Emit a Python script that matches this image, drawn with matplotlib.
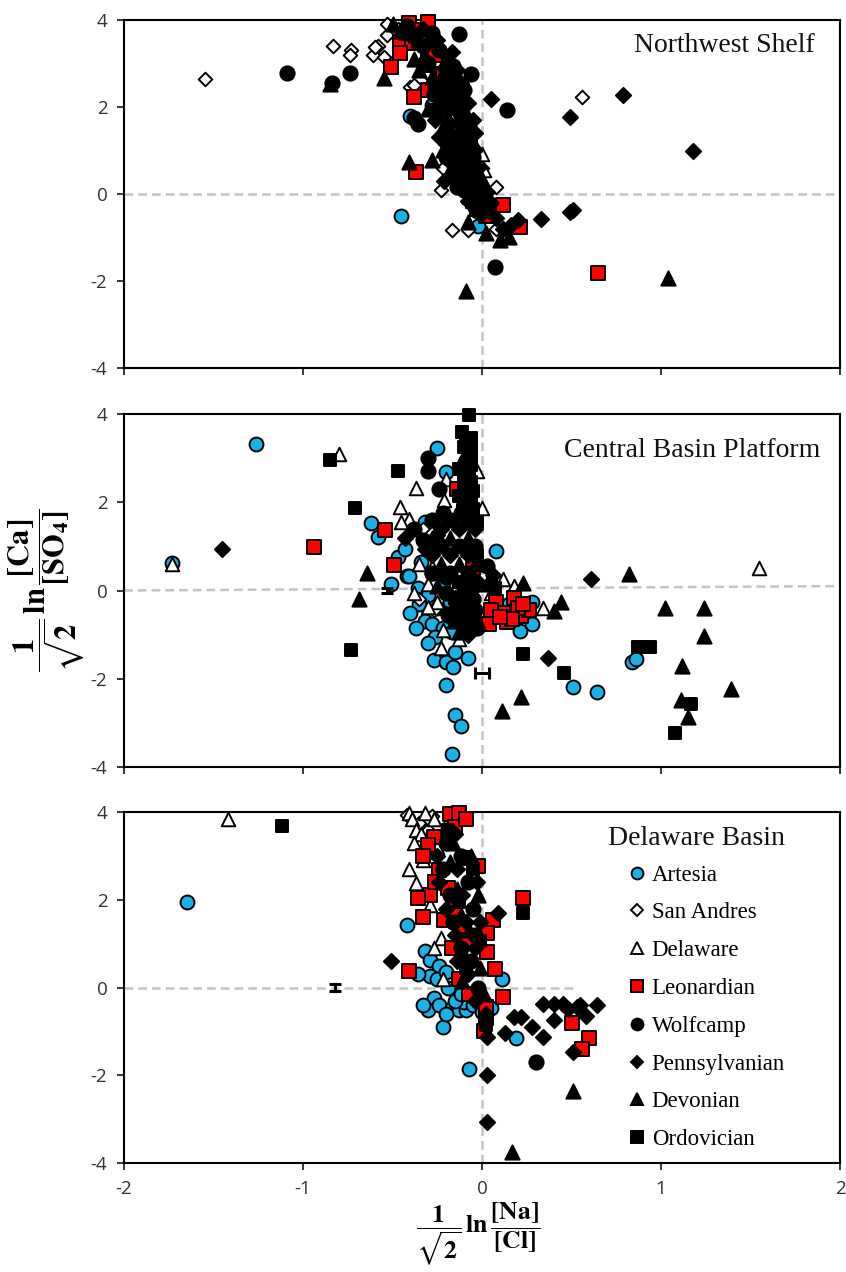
import numpy as np
import matplotlib
matplotlib.use("Agg")
import matplotlib.pyplot as plt
from matplotlib.lines import Line2D

plt.rcParams['mathtext.fontset'] = 'stix'
plt.rcParams['axes.unicode_minus'] = False

# ---------------- data: (ln ratio Na/Cl, ln ratio Ca/SO4) ----------------
groups = ['Artesia', 'San Andres', 'Delaware', 'Leonardian',
          'Wolfcamp', 'Pennsylvanian', 'Devonian', 'Ordovician']
x_ticks = [-2, -1, 0, 1, 2]
y_ticks = [-4, -2, 0, 2, 4]

# Northwest Shelf
nw_artesia = [(-0.45, -0.50), (-0.40, 1.80), (-0.02, -0.74), (-0.28, 2.05), (-0.15, 1.20),
              (-0.03, -0.40)]
nw_sanandres = [(-1.55, 2.64), (-0.83, 3.40), (-0.73, 3.30), (-0.74, 3.20), (-0.58, 3.40),
                (-0.61, 3.20), (-0.53, 3.90), (-0.53, 3.65), (-0.55, 3.15), (-0.60, 3.38),
                (-0.40, 2.46), (-0.38, 2.50), (0.56, 2.23), (-0.23, 0.08), (0.08, 0.17),
                (-0.17, -0.83), (-0.08, -0.83), (0.08, -0.80), (-0.30, 3.35), (-0.25, 2.95),
                (-0.30, 2.75), (-0.05, 0.80), (0.00, 0.60), (-0.22, 0.60), (-0.47, 3.80)]
nw_delaware = [(0.00, 0.93), (0.01, 0.55)]
nw_leonardian = [(-0.41, 3.93), (-0.30, 3.95), (-0.37, 3.77), (-0.46, 3.50), (-0.39, 3.47),
                 (-0.30, 3.30), (-0.46, 3.24), (-0.51, 2.92), (-0.31, 2.97), (-0.26, 3.20),
                 (-0.38, 2.23), (-0.30, 2.40), (-0.25, 1.90), (-0.37, 0.51), (0.12, -0.25),
                 (0.21, -0.75), (0.65, -1.82), (0.04, -0.30), (-0.03, -0.35), (-0.42, 3.70),
                 (-0.34, 3.60), (-0.22, 2.75), (-0.15, 2.10), (-0.10, 1.30), (-0.05, -0.15),
                 (0.02, -0.50)]
nw_wolfcamp = [(-1.09, 2.78), (-0.84, 2.55), (-0.74, 2.78), (-0.13, 3.67), (0.14, 1.93),
               (0.07, -1.67), (-0.38, 1.75), (-0.36, 1.62), (-0.30, 3.00), (-0.22, 2.60),
               (-0.18, 2.20), (-0.25, 1.90), (-0.12, 1.80), (-0.20, 1.45), (-0.08, 1.25),
               (-0.15, 1.05), (-0.05, 0.85), (-0.12, 0.60), (-0.06, 0.35), (-0.10, 0.10),
               (-0.02, -0.10), (0.02, -0.35), (-0.04, -0.30), (-0.27, 2.30), (-0.33, 3.40),
               (-0.42, 3.85), (-0.16, 2.95), (-0.10, 2.40), (-0.07, 1.55), (-0.20, 0.85),
               (-0.24, 3.30), (-0.20, 2.40), (-0.12, 2.00), (-0.17, 1.30), (-0.10, 0.80),
               (-0.14, 0.15), (-0.04, 0.10), (-0.28, 3.70), (-0.38, 3.60), (-0.06, 2.75)]
nw_penn = [(-0.17, 3.27), (0.05, 2.18), (0.79, 2.28), (0.49, 1.77), (1.18, 0.99),
           (0.51, -0.36), (0.49, -0.42), (0.33, -0.57), (0.20, -0.60), (0.16, -0.72),
           (0.12, -0.80), (-0.14, 2.85), (-0.20, 2.75), (-0.12, 2.55), (-0.26, 2.45),
           (-0.16, 2.35), (-0.08, 2.10), (-0.22, 2.05), (-0.14, 1.90), (-0.26, 1.70),
           (-0.10, 1.65), (-0.18, 1.60), (-0.04, 1.40), (-0.13, 1.35), (-0.24, 1.30),
           (-0.09, 1.10), (-0.20, 1.15), (-0.04, 1.00), (-0.15, 0.90), (-0.08, 0.75),
           (-0.17, 0.70), (-0.02, 0.60), (-0.09, 0.45), (-0.15, 0.35), (-0.03, 0.20),
           (-0.12, 0.25), (-0.06, 0.00), (0.03, 0.05), (-0.08, -0.15), (0.05, -0.20),
           (0.00, -0.45), (0.08, -0.55), (-0.33, 3.80), (-0.25, 3.55), (-0.21, 2.90),
           (-0.05, 1.70), (-0.21, 0.30), (-0.01, -0.25)]
nw_devonian = [(-0.85, 2.52), (-0.55, 2.66), (-0.41, 0.74), (-0.28, 0.78), (-0.09, -2.23),
               (1.04, -1.92), (0.15, -0.99), (-0.08, -0.64), (0.02, -0.90), (0.10, -1.05),
               (-0.35, 2.85), (-0.28, 2.70), (-0.20, 3.10), (-0.32, 3.15), (-0.24, 2.20),
               (-0.30, 1.95), (-0.19, 1.75), (-0.10, 1.95), (-0.22, 1.55), (-0.13, 1.50),
               (-0.05, 1.20), (-0.17, 1.25), (-0.11, 0.95), (-0.22, 1.00), (-0.06, 0.65),
               (-0.14, 0.50), (-0.10, 0.30), (-0.04, 0.45), (-0.18, 0.55), (-0.07, -0.05),
               (0.00, 0.35), (-0.16, 2.65), (-0.38, 3.10), (-0.45, 3.75), (-0.50, 3.90),
               (-0.36, 3.55), (-0.30, 3.55)]
nw_ordovician = [(-0.12, 2.30), (-0.06, 1.35), (-0.18, 1.95)]
nw_zero_line = [0.0, 0.0]

# Central Basin Platform
cb_artesia = [(-1.73, 0.63), (-1.26, 3.31), (-0.62, 1.54), (-0.58, 1.22), (-0.47, 0.75),
              (-0.42, 0.32), (-0.51, 0.15), (-0.25, 3.22), (-0.20, 2.68), (-0.36, 0.05),
              (0.08, 0.90), (0.28, -0.25), (0.21, -0.91), (0.28, -0.75), (0.84, -1.63),
              (0.86, -1.55), (0.51, -2.18), (0.64, -2.29), (-0.17, -3.70), (-0.15, -2.83),
              (-0.12, -3.08), (-0.20, -2.13), (-0.27, -1.57), (-0.20, -1.63), (-0.15, -1.40),
              (-0.08, -1.54), (-0.16, -1.74), (-0.32, -0.68), (-0.30, 0.95), (-0.34, 0.65),
              (-0.25, 1.10), (-0.28, 0.40), (-0.22, 0.15), (-0.30, -0.10), (-0.35, -0.30),
              (-0.25, -0.40), (-0.18, -0.25), (-0.28, -0.75), (-0.22, -0.85), (-0.14, -0.55),
              (-0.10, -0.90), (-0.17, -0.95), (-0.05, -0.70), (-0.40, -0.50), (-0.37, -0.85),
              (0.15, -0.30), (0.25, -0.45), (0.20, -0.30), (0.05, -0.60), (-0.24, 1.50),
              (-0.15, 1.60), (-0.32, 1.55), (-0.43, 0.95), (-0.10, -0.35), (-0.26, -1.05),
              (-0.30, -1.20), (-0.41, 0.34)]
cb_sanandres = [(-0.33, 1.40), (-0.28, 1.30), (-0.20, -0.50), (-0.35, -0.20), (-0.10, -0.20),
                (-0.27, -0.45), (-0.40, 1.30)]
cb_delaware = [(-1.73, 0.60), (1.55, 0.50), (-0.80, 3.10), (-0.37, 2.33), (-0.46, 1.90),
               (-0.41, 1.63), (-0.35, 0.60), (-0.28, 0.53), (-0.20, 2.53), (-0.21, 2.05),
               (-0.03, 2.72), (0.00, 1.88), (0.05, 0.34), (0.12, 0.27), (0.05, -0.05),
               (-0.25, -0.25), (-0.30, -0.38), (-0.15, -0.15), (-0.23, -1.30), (-0.22, -0.90),
               (-0.17, -0.50), (0.34, -0.39), (0.18, 0.10), (-0.38, -0.05), (-0.45, 1.55),
               (-0.30, 0.15), (-0.13, -1.10), (0.05, -0.30)]
cb_leonardian = [(-0.94, 0.98), (-0.54, 1.38), (-0.49, 0.57), (0.04, -0.75), (0.08, -0.27),
                 (0.18, -0.16), (0.14, -0.72), (0.22, -0.57), (0.26, -0.45), (0.12, -0.50),
                 (0.20, -0.40), (-0.13, -0.20), (0.05, -0.45), (0.17, -0.65), (0.23, -0.30),
                 (0.10, -0.60), (-0.10, 1.80), (-0.05, 0.50), (-0.14, 2.30)]
cb_wolfcamp = [(-0.30, 3.00), (-0.30, 2.72), (-0.24, 2.30), (-0.28, 1.60), (-0.18, 1.60),
               (-0.08, 1.60), (-0.23, 1.00), (-0.13, 1.00), (-0.04, 1.00), (-0.28, 0.40),
               (-0.18, 0.40), (-0.08, 0.40), (-0.15, -0.20), (-0.05, -0.20), (-0.10, -0.80),
               (0.03, 0.55), (-0.38, 1.40), (-0.22, 1.75), (-0.12, 1.75), (-0.20, -0.05),
               (-0.04, -0.45), (-0.19, -0.55), (-0.03, -0.85), (-0.20, 0.30), (-0.33, 1.15)]
cb_penn = [(-1.45, 0.93), (0.61, 0.27), (0.37, -1.52), (-0.43, 1.18), (-0.23, 1.40),
           (-0.13, 1.40), (-0.04, 1.40), (-0.28, 0.80), (-0.18, 0.80), (-0.08, 0.80),
           (-0.10, 0.00), (-0.15, -0.40), (-0.05, -0.60), (0.06, 0.35), (-0.10, 2.65),
           (-0.32, 0.95), (-0.12, -0.30), (-0.08, -1.00), (-0.25, 1.25), (-0.02, 0.20)]
cb_devonian = [(-0.64, 0.40), (-0.69, -0.20), (0.82, 0.38), (0.23, 0.18), (0.44, -0.27),
               (0.40, -0.47), (1.02, -0.39), (1.24, -0.39), (1.24, -1.02), (1.12, -1.70),
               (1.39, -2.23), (1.11, -2.48), (1.15, -2.87), (0.22, -2.42), (0.11, -2.72),
               (-0.28, 1.20), (-0.18, 1.20), (-0.08, 1.20), (-0.23, 0.60), (-0.13, 0.60),
               (-0.04, 0.60), (-0.10, 0.20), (-0.05, -0.40), (-0.15, -0.70), (0.03, 0.15),
               (-0.10, 3.05), (-0.25, 0.10), (-0.13, -0.95)]
cb_ordovician = [(-0.85, 2.95), (-0.47, 2.72), (-0.71, 1.86), (-0.73, -1.34), (0.94, -1.29),
                 (0.87, -1.29), (0.23, -1.43), (0.46, -1.86), (1.17, -2.57), (1.08, -3.22),
                 (-0.07, 3.97), (-0.09, 3.45), (-0.06, 3.45), (-0.10, 3.25), (-0.06, 3.25),
                 (-0.06, 3.05), (-0.09, 2.85), (-0.06, 2.85), (-0.07, 2.65), (-0.10, 2.45),
                 (-0.06, 2.45), (-0.09, 2.25), (-0.05, 2.25), (-0.10, 2.05), (-0.06, 2.05),
                 (-0.09, 1.85), (-0.05, 1.85), (-0.13, 0.20), (-0.05, 0.10), (-0.10, -0.50),
                 (0.07, 0.05), (-0.11, 3.60), (-0.13, 2.75), (-0.13, 2.15), (-0.03, 1.55),
                 (-0.03, 0.80), (-0.08, 0.90)]
cb_zero_line = [0.0, 0.1]
cb_err = [(0.00, -1.88, 0.04, 0.0), (-0.53, 0.00, 0.0, 0.06)]

# Delaware Basin
db_artesia = [(-1.65, 1.96), (-0.42, 1.43), (-0.32, 0.84), (-0.29, 0.62), (-0.24, 0.50),
              (-0.29, 0.27), (0.11, 0.20), (-0.19, 0.00), (-0.27, -0.25), (-0.30, -0.52),
              (-0.24, -0.39), (-0.22, -0.91), (-0.17, -0.46), (-0.13, -0.52), (-0.09, -0.52),
              (-0.10, -0.34), (0.05, -0.46), (0.19, -1.16), (-0.07, -1.85), (-0.20, -0.60),
              (-0.15, -0.30), (-0.05, -0.40), (-0.33, -0.40), (-0.36, 0.30), (-0.25, 0.20),
              (-0.12, -0.15), (0.00, -0.55), (-0.20, 0.35)]
db_sanandres = [(-0.42, 3.94), (-0.35, 3.75), (-0.28, 3.90), (-0.30, 3.60)]
db_delaware = [(-1.42, 3.85), (-0.41, 3.98), (-0.32, 3.98), (-0.27, 3.85), (-0.39, 3.85),
               (-0.37, 3.58), (-0.34, 3.50), (-0.38, 3.30), (-0.31, 3.30), (-0.21, 3.62),
               (-0.41, 2.71), (-0.37, 2.39), (-0.23, 1.12), (-0.27, 0.90), (-0.22, 0.20),
               (-0.29, 1.87), (-0.30, 3.10), (-0.25, 3.20), (-0.33, 2.90), (-0.18, 3.75)]
db_leonardian = [(-0.18, 3.96), (-0.13, 3.98), (-0.15, 3.65), (-0.09, 3.85), (-0.27, 3.42),
                 (-0.30, 3.24), (-0.33, 3.00), (-0.24, 2.67), (-0.29, 2.10), (-0.36, 2.05),
                 (-0.19, 2.26), (-0.33, 1.60), (-0.21, 1.53), (-0.15, 1.80), (-0.02, 2.78),
                 (0.06, 1.53), (0.03, 1.25), (-0.17, 0.89), (-0.08, 1.03), (-0.41, 0.37),
                 (-0.13, 0.20), (0.07, 0.43), (-0.07, -0.14), (0.12, -0.22), (0.01, -0.98),
                 (0.23, 2.05), (0.50, -0.82), (0.60, -1.14), (0.56, -1.41), (0.02, -0.70),
                 (0.02, -0.45), (-0.26, 2.40), (-0.10, 2.95), (-0.12, 1.40), (0.03, 0.80)]
db_wolfcamp = [(0.30, -1.70), (-0.20, 3.30), (-0.12, 3.00), (-0.22, 2.70), (-0.08, 2.40),
               (-0.18, 2.10), (-0.05, 1.80), (-0.16, 1.50), (-0.04, 1.20), (-0.12, 0.90),
               (-0.06, 0.60), (-0.02, 0.00)]
db_penn = [(-0.51, 0.60), (0.09, 1.69), (0.34, -0.37), (0.40, -0.37), (0.45, -0.37),
           (0.53, -0.45), (0.55, -0.40), (0.64, -0.39), (0.40, -0.75), (0.58, -0.66),
           (0.18, -0.68), (0.22, -0.68), (0.13, -1.03), (0.34, -1.13), (0.51, -1.47),
           (0.03, -1.13), (0.03, -2.00), (0.03, -3.07), (0.48, -0.50), (0.28, -0.90),
           (-0.15, 3.50), (-0.25, 3.00), (-0.14, 2.70), (-0.03, 2.40), (-0.24, 2.40),
           (-0.11, 2.10), (-0.20, 1.80), (-0.09, 1.50), (-0.01, 1.50), (-0.15, 1.20),
           (-0.04, 0.90), (-0.14, 0.60), (-0.08, 0.30), (-0.04, -0.30), (0.02, -0.60)]
db_devonian = [(0.51, -2.35), (0.17, -3.75), (-0.16, 3.30), (-0.06, 3.00), (-0.18, 2.85),
               (-0.14, 2.25), (-0.02, 2.10), (-0.12, 1.65), (-0.07, 1.30), (-0.10, 0.75),
               (-0.01, 0.45), (-0.11, 0.15), (0.01, -0.15)]
db_ordovician = [(-1.12, 3.69), (0.23, 1.69), (-0.19, 3.60), (-0.05, 2.70), (-0.13, 1.95),
                 (-0.01, 1.05), (-0.09, 0.45), (0.02, -0.85)]
db_zero_line = [0.0, 0.0]
db_zero_end = 0.52
db_err = [(-0.82, 0.00, 0.0, 0.08)]

# ---------------- styles ----------------
styles = {
    'Artesia':       dict(marker='o', fc='#1cb0e8', s=100),
    'San Andres':    dict(marker='D', fc='white', s=48),
    'Delaware':      dict(marker='^', fc='white', s=95),
    'Leonardian':    dict(marker='s', fc='#ff0000', s=92),
    'Wolfcamp':      dict(marker='o', fc='black', s=105),
    'Pennsylvanian': dict(marker='D', fc='black', s=60),
    'Devonian':      dict(marker='^', fc='black', s=105),
    'Ordovician':    dict(marker='s', fc='black', s=85),
}

panels = [
    ('Northwest Shelf', [nw_artesia, nw_sanandres, nw_delaware, nw_leonardian,
                         nw_wolfcamp, nw_penn, nw_devonian, nw_ordovician],
     nw_zero_line, 2.0, []),
    ('Central Basin Platform', [cb_artesia, cb_sanandres, cb_delaware, cb_leonardian,
                                cb_wolfcamp, cb_penn, cb_devonian, cb_ordovician],
     cb_zero_line, 2.0, cb_err),
    ('Delaware Basin', [db_artesia, db_sanandres, db_delaware, db_leonardian,
                        db_wolfcamp, db_penn, db_devonian, db_ordovician],
     db_zero_line, db_zero_end, db_err),
]

fig = plt.figure(figsize=(8.46, 12.72), dpi=100)
boxes = [(0.1466, 0.7107, 0.8463, 0.2736),
         (0.1466, 0.3970, 0.8463, 0.2775),
         (0.1466, 0.0857, 0.8463, 0.2759)]
title_pos = [(0.965, 0.928, 'right'), (0.972, 0.898, 'right'), (0.80, 0.926, 'center')]

grid_c = '#c4c4c4'
tick_font = 'Open Sans'

for i, (name, series, zline, zend, errs) in enumerate(panels):
    ax = fig.add_axes(boxes[i])
    ax.set_xlim(-2, 2)
    ax.set_ylim(-4, 4)
    ax.plot([-2, zend], [zline[0], zline[0] + (zline[1] - zline[0]) * (zend + 2) / 4],
            ls=(0, (3.5, 2)), color=grid_c, lw=1.8, zorder=1)
    ax.plot([0, 0], [-4, 4], ls=(0, (3.5, 2)), color=grid_c, lw=1.8, zorder=1)
    for k, (g, pts) in enumerate(zip(groups, series)):
        if not pts:
            continue
        st = styles[g]
        xs = [p[0] for p in pts]
        ys = [p[1] for p in pts]
        ax.scatter(xs, ys, marker=st['marker'], s=st['s'], facecolor=st['fc'],
                   edgecolor='black', linewidths=1.4, zorder=3 + k, clip_on=False)
    for ex, ey, xe, ye in errs:
        ax.errorbar([ex], [ey], xerr=[xe] if xe else None, yerr=[ye] if ye else None,
                    fmt='none', ecolor='black', elinewidth=2.2, capsize=4,
                    capthick=2.2, zorder=12)
    ax.set_xticks(x_ticks)
    ax.set_yticks(y_ticks)
    ax.tick_params(direction='out', length=5, width=1.1, labelsize=13.5,
                   labelcolor='#333333', pad=7)
    for lab in ax.get_xticklabels() + ax.get_yticklabels():
        lab.set_family(tick_font)
    if i < 2:
        ax.set_xticklabels([])
    for sp in ax.spines.values():
        sp.set_linewidth(1.5)
    tx, ty, ha = title_pos[i]
    ax.text(tx, ty, name, transform=ax.transAxes, ha=ha, va='center',
            family='Liberation Serif', fontsize=20, color='#111111')

    if i == 2:
        handles = []
        for g in groups:
            st = styles[g]
            ms = 8.5 if st['marker'] != 'D' else 6.5
            handles.append(Line2D([], [], ls='none', marker=st['marker'], markersize=ms,
                                  markerfacecolor=st['fc'], markeredgecolor='black',
                                  markeredgewidth=1.4))
        ax.legend(handles, groups, loc='upper left', bbox_to_anchor=(0.705, 0.85),
                  frameon=False, prop={'family': 'Liberation Serif', 'size': 16.5},
                  handlelength=0.7, handletextpad=0.3, labelspacing=0.73,
                  borderpad=0, borderaxespad=0)

fig.text(0.055, 0.536,
         r'$\dfrac{\mathbf{1}}{\sqrt{\mathbf{2}}}\,\mathbf{ln}\,'
         r'\dfrac{\mathbf{[Ca]}}{\mathbf{[SO}_{\mathbf{4}}\mathbf{]}}$',
         rotation=90, ha='center', va='center', fontsize=22)
fig.text(0.565, 0.003,
         r'$\dfrac{\mathbf{1}}{\sqrt{\mathbf{2}}}\,\mathbf{ln}\,'
         r'\dfrac{\mathbf{[Na]}}{\mathbf{[Cl]}}$',
         ha='center', va='bottom', fontsize=18.5)

fig.savefig('out.png', dpi=100)
